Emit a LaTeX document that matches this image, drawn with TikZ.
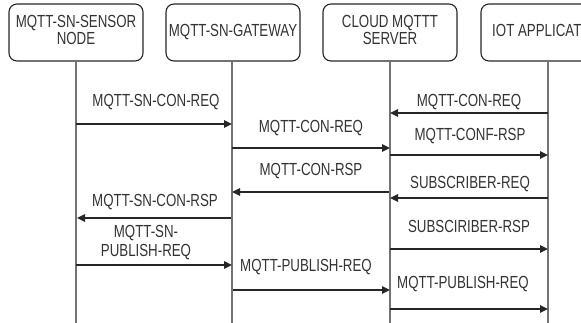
\documentclass[tikz,border=0pt]{standalone}
\usepackage{fontspec}
\setmainfont{Liberation Sans}
\usetikzlibrary{arrows.meta}
\newcommand\lbl[1]{\scalebox{0.76}[1]{\begin{tabular}{@{}c@{}}#1\end{tabular}}}
\begin{document}
\begin{tikzpicture}[x=1pt,y=-1pt,
  every node/.style={font=\fontsize{17.5}{16.7}\selectfont, text=black!80},
  actor/.style={draw=black!85, line width=1.1pt, rounded corners=8pt, minimum width=134pt, minimum height=57pt, inner sep=0pt},
  life/.style={draw=black!55, line width=1.3pt},
  msg/.style={draw=black!85, line width=1.3pt, -{Triangle[length=8pt,width=7.5pt]}},
  txt/.style={inner sep=0pt}]
\useasboundingbox (0,0) rectangle (581,322);
\clip (0,0) rectangle (581,322);
% actors
\node[actor] (sn) at (76,32.5) {\lbl{MQTT-SN-SENSOR\\NODE}};
\node[actor] (gw) at (233,32.5) {\lbl{MQTT-SN-GATEWAY}};
\node[actor] (cs) at (390,32.5) {\lbl{CLOUD MQTTT\\SERVER}};
\node[actor] (iot) at (548,32.5) {};
\node[txt, anchor=west] (iott) at (492,33) {\lbl{IOT APPLICAT}};
% lifeline ends
\coordinate (snE) at (76,330);
\coordinate (gwE) at (232,330);
\coordinate (csE) at (390,330);
\coordinate (iotE) at (548,330);
\draw[life] (sn.south -| snE) -- (snE);
\draw[life] (gw.south -| gwE) -- (gwE);
\draw[life] (cs.south -| csE) -- (csE);
\draw[life] (iot.south -| iotE) -- (iotE);
% message points
\foreach \n/\x/\y in {a1/76/124, a2/232/124,
  b1/548/113, b2/390/113,
  c1/232/148, c2/390/148,
  d1/390/155, d2/548/155,
  e1/389/192, e2/232/192,
  f1/548/198, f2/390/198,
  g1/231/218, g2/77/218,
  h1/390/249, h2/548/249,
  i1/76/265, i2/232/265,
  j1/233/290, j2/390/290,
  k1/390/309, k2/548/309}
  \coordinate (\n) at (\x,\y);
\draw[msg] (a1) -- (a2);
\draw[msg] (b1) -- (b2);
\draw[msg] (c1) -- (c2);
\draw[msg] (d1) -- (d2);
\draw[msg] (e1) -- (e2);
\draw[msg] (f1) -- (f2);
\draw[msg] (g1) -- (g2);
\draw[msg] (h1) -- (h2);
\draw[msg] (i1) -- (i2);
\draw[msg] (j1) -- (j2);
\draw[msg] (k1) -- (k2);
% labels
\node[txt] (la) at (156,103) {\lbl{MQTT-SN-CON-REQ}};
\node[txt] (lb) at (469,103) {\lbl{MQTT-CON-REQ}};
\node[txt] (lc) at (311,129) {\lbl{MQTT-CON-REQ}};
\node[txt] (ld) at (470,137) {\lbl{MQTT-CONF-RSP}};
\node[txt] (le) at (311,172) {\lbl{MQTT-CON-RSP}};
\node[txt] (lf) at (470,185) {\lbl{SUBSCRIBER-REQ}};
\node[txt] (lg) at (155,203) {\lbl{MQTT-SN-CON-RSP}};
\node[txt] (lh) at (469,229) {\lbl{SUBSCIRIBER-RSP}};
\node[txt, font=\fontsize{17.5}{19}\selectfont] (li) at (146,243) {\lbl{MQTT-SN-\\PUBLISH-REQ}};
\node[txt] (lj) at (306,268) {\lbl{MQTT-PUBLISH-REQ}};
\node[txt] (lk) at (463,285) {\lbl{MQTT-PUBLISH-REQ}};
\end{tikzpicture}
\end{document}
